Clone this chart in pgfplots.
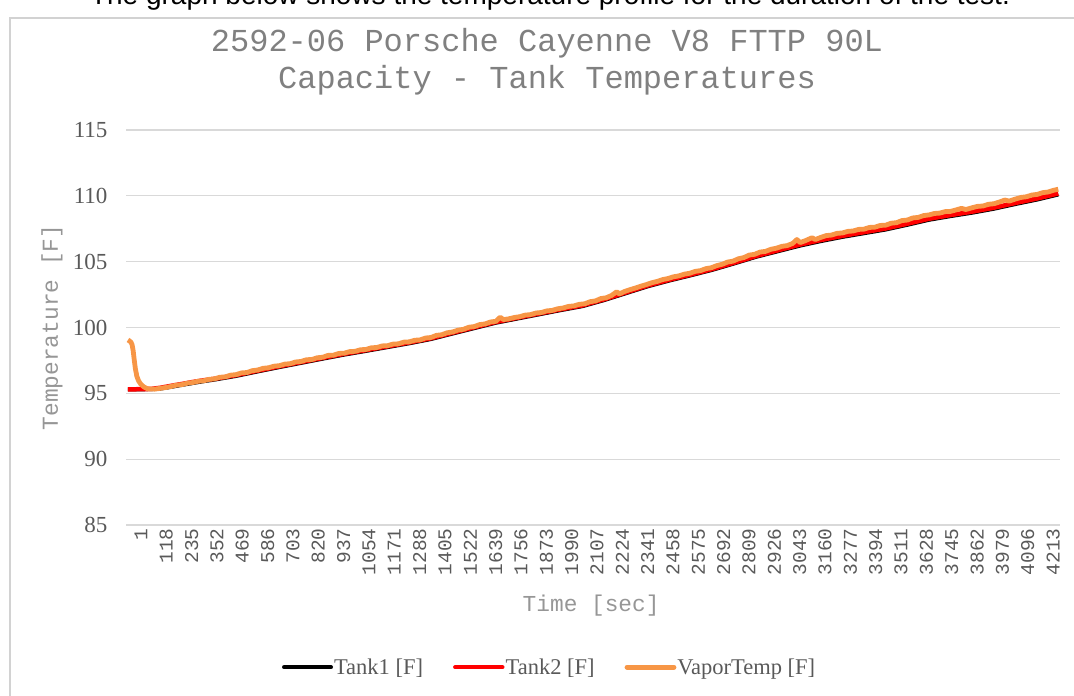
\documentclass[border=0pt]{standalone}
\usepackage{pgfplots}
\pgfplotsset{compat=1.18}
\usepackage{pgfplotstable}
\usepackage{fontspec}
\setmainfont{Liberation Serif}
\newfontfamily\monofont{Liberation Mono}
\newfontfamily\sansfont{Liberation Sans}
\definecolor{vapor}{RGB}{247,150,70}
\definecolor{txtgray}{RGB}{150,150,150}
\definecolor{titlegray}{RGB}{128,128,128}
\definecolor{tickgray}{RGB}{89,89,89}
\definecolor{gridgray}{RGB}{217,217,217}
\definecolor{bordergray}{RGB}{210,210,210}

\pgfplotstableread{
t V
1 99.05
8 98.98
15 98.88
20 98.70
25 98.25
30 97.55
35 96.90
42 96.30
50 95.95
60 95.70
75 95.48
90 95.36
100 95.33
125 95.32
150 95.38
175 95.44
200 95.52
225 95.62
250 95.66
275 95.77
300 95.82
325 95.92
350 95.95
375 96.06
400 96.10
425 96.22
450 96.25
475 96.38
500 96.42
525 96.55
550 96.58
575 96.72
600 96.77
625 96.90
650 96.94
675 97.06
700 97.10
725 97.22
750 97.25
775 97.38
800 97.42
825 97.55
850 97.57
875 97.70
900 97.74
925 97.88
950 97.90
975 98.03
1000 98.05
1025 98.17
1050 98.19
1075 98.31
1100 98.33
1125 98.46
1150 98.48
1175 98.60
1200 98.62
1225 98.74
1250 98.76
1275 98.89
1300 98.91
1325 99.03
1350 99.06
1375 99.20
1400 99.24
1425 99.40
1450 99.45
1475 99.60
1500 99.66
1525 99.80
1550 99.86
1575 100.02
1600 100.07
1625 100.22
1650 100.27
1675 100.42
1700 100.47
1720 100.78
1735 100.60
1760 100.66
1785 100.76
1810 100.82
1835 100.94
1860 100.98
1885 101.10
1910 101.14
1935 101.26
1960 101.30
1985 101.42
2010 101.48
2035 101.60
2060 101.64
2085 101.76
2110 101.80
2135 101.96
2160 102.02
2185 102.20
2210 102.26
2235 102.44
2258 102.72
2270 102.55
2295 102.74
2320 102.88
2345 103.00
2370 103.14
2395 103.26
2420 103.40
2445 103.50
2470 103.64
2495 103.72
2520 103.85
2545 103.92
2570 104.05
2595 104.12
2620 104.26
2645 104.32
2670 104.47
2695 104.54
2720 104.70
2745 104.80
2770 104.97
2795 105.04
2820 105.22
2845 105.31
2870 105.50
2895 105.56
2920 105.73
2945 105.78
2970 105.94
2995 106.02
3020 106.16
3045 106.22
3070 106.38
3090 106.68
3105 106.45
3130 106.60
3160 106.82
3175 106.68
3200 106.84
3225 106.98
3250 107.02
3275 107.15
3300 107.18
3325 107.30
3350 107.33
3375 107.45
3400 107.47
3425 107.60
3450 107.62
3475 107.75
3500 107.77
3525 107.92
3550 107.96
3575 108.12
3600 108.16
3625 108.32
3650 108.36
3675 108.50
3700 108.55
3725 108.66
3750 108.69
3775 108.80
3800 108.82
3825 108.93
3850 109.05
3870 108.96
3900 109.10
3925 109.20
3950 109.23
3975 109.36
4000 109.40
4025 109.53
4050 109.68
4070 109.60
4100 109.76
4125 109.88
4150 109.93
4175 110.06
4200 110.11
4225 110.24
4250 110.29
4275 110.42
4297 110.50
}\vapordata

\pgfplotstableread{
t T
1 95.30
40 95.31
80 95.32
110 95.34
150 95.42
200 95.57
250 95.71
300 95.86
350 95.99
400 96.10
500 96.38
600 96.72
700 97.05
800 97.37
900 97.69
1000 98.00
1100 98.28
1200 98.57
1300 98.86
1400 99.18
1500 99.60
1600 100.01
1700 100.42
1800 100.74
1900 101.06
2000 101.38
2100 101.68
2200 102.14
2300 102.66
2400 103.18
2500 103.62
2600 104.02
2700 104.44
2800 104.92
2900 105.42
3000 105.85
3100 106.28
3200 106.64
3300 106.96
3400 107.24
3500 107.52
3600 107.88
3700 108.26
3800 108.54
3900 108.80
4000 109.10
4100 109.46
4200 109.80
4297 110.18
}\tanktwo

\pgfplotstableread{
t T
1 95.30
40 95.30
80 95.31
110 95.32
150 95.36
200 95.49
250 95.64
300 95.78
350 95.92
400 96.04
500 96.32
600 96.66
700 96.99
800 97.31
900 97.63
1000 97.94
1100 98.22
1200 98.51
1300 98.80
1400 99.12
1500 99.54
1600 99.95
1700 100.36
1800 100.68
1900 101.00
2000 101.32
2100 101.62
2200 102.08
2300 102.60
2400 103.12
2500 103.56
2600 103.96
2700 104.38
2800 104.86
2900 105.36
3000 105.78
3100 106.20
3200 106.56
3300 106.88
3400 107.16
3500 107.44
3600 107.80
3700 108.18
3800 108.46
3900 108.72
4000 109.02
4100 109.38
4200 109.72
4297 110.10
}\tankone

\begin{document}
\begin{tikzpicture}[x=1pt,y=1pt]
\useasboundingbox (0,0) rectangle (1074,696);
\draw[bordergray, line width=1.2pt] (10,-5) -- (10,678) -- (1080,678);
\node[anchor=base, font=\sansfont\fontsize{28}{28}\selectfont] at (550,691) {The graph below shows the temperature profile for the duration of the test.};
\node[font=\monofont\fontsize{32}{37}\selectfont, text=titlegray, align=center] at (547,634.5) {2592-06 Porsche Cayenne V8 FTTP 90L\\Capacity - Tank Temperatures};
\begin{axis}[
  at={(126pt,171pt)}, anchor=south west,
  width=934pt, height=395pt, scale only axis,
  xmin=-8, xmax=4305, ymin=85, ymax=115,
  ytick={85,90,95,100,105,110,115},
  xtick={1,118,...,4213},
  /pgf/number format/assume math mode=true,
  xticklabel={\pgfmathprintnumber[fixed,precision=0,1000 sep={},assume math mode=true]{\tick}},
  axis line style={draw=none},
  tick style={draw=none},
  major tick length=0pt,
  ymajorgrids,
  major grid style={gridgray, line width=1.3pt},
  xticklabel style={font=\monofont\fontsize{19.5}{19.5}\selectfont, text=tickgray, rotate=90, anchor=east, yshift=-13pt},
  yticklabel style={font=\fontsize{23}{23}\selectfont, text=tickgray, xshift=-15pt},
  xlabel={Time [sec]},
  ylabel={Temperature [F]},
  xlabel style={font=\monofont\fontsize{22.8}{22.8}\selectfont, text=txtgray, at={(axis description cs:0.498,-0.205)}, anchor=center},
  ylabel style={font=\monofont\fontsize{22.8}{22.8}\selectfont, text=txtgray, at={(axis description cs:-0.0792,0.5)}, anchor=center},
  legend columns=3,
  legend style={at={(axis description cs:0.453,-0.36)}, anchor=center, draw=none, fill=none,
    font=\fontsize{22.5}{22.5}\selectfont, text=tickgray,
    nodes={inner xsep=1pt},
    /tikz/every odd column/.append style={column sep=0pt},
    /tikz/every even column/.append style={column sep=29pt}},
  legend image code/.code={\draw[#1, line cap=round] (0pt,0pt) -- (47pt,0pt);},
  every axis plot/.append style={line join=round},
]
\addplot[black, line width=4pt] table[x=t, y=T] {\tankone};
\addlegendentry{Tank1 [F]}
\addplot[red, line width=4.5pt] table[x=t, y=T] {\tanktwo};
\addlegendentry{Tank2 [F]}
\addplot[vapor, line width=4.8pt] table[x=t, y=V] {\vapordata};
\addlegendentry{VaporTemp [F]}
\end{axis}
\end{tikzpicture}
\end{document}
